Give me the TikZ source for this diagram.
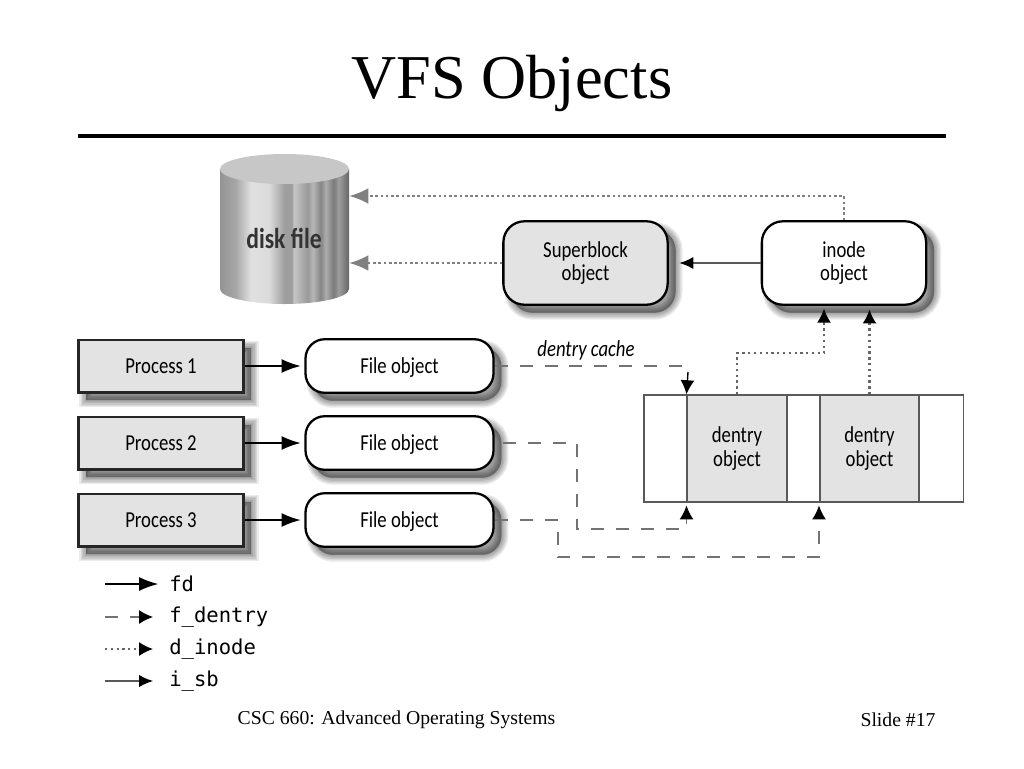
\documentclass[tikz,border=0pt]{standalone}
\usepackage{fontspec}
\setmainfont{Liberation Serif}
\newfontfamily\labelfont[FakeStretch=0.82]{Carlito}
\newfontfamily\codefont{DejaVu Sans Mono}
\usetikzlibrary{shadows,arrows.meta}
\pgfdeclarehorizontalshading{diskstripes}{100bp}{
  color(0bp)=(black!42); color(25bp)=(black!42); color(31bp)=(black!35);
  color(37bp)=(black!12); color(44bp)=(black!14); color(50bp)=(black!38);
  color(53bp)=(black!38); color(53.5bp)=(black!22); color(56bp)=(black!30);
  color(59bp)=(black!40); color(61bp)=(black!28); color(64bp)=(black!48);
  color(66bp)=(black!32); color(69bp)=(black!52); color(71bp)=(black!38);
  color(74bp)=(black!55); color(75bp)=(black!60); color(100bp)=(black!60)}
\tikzset{
  softlayer/.style={general shadow={shadow xshift=4.5pt,shadow yshift=-4.5pt,fill=black,draw=black,line width=#1,opacity=.08}},
  softshadow/.style={softlayer=8pt,softlayer=6.5pt,softlayer=5pt,softlayer=3.5pt,softlayer=2pt,softlayer=.5pt},
  boxlabel/.style={font=\labelfont\fontsize{13}{13.5}\selectfont,align=center,inner sep=0pt},
  procbox/.style={boxlabel,softshadow,draw=black!85,line width=1.3pt,fill=black!11,minimum width=94pt,minimum height=30pt,text height=9pt,text depth=0pt},
  fileobj/.style={boxlabel,softshadow,draw=black,line width=1.3pt,fill=white,rounded corners=11pt,minimum width=107pt,minimum height=30.5pt,text height=9pt,text depth=0pt},
  bigobj/.style={boxlabel,softshadow,draw=black,line width=1.3pt,rounded corners=12pt,minimum width=93.5pt,minimum height=47.5pt},
  dentrycell/.style={boxlabel,draw=black!65,line width=1pt,fill=black!11,minimum width=56.5pt,minimum height=60.7pt},
  fdline/.style={draw=black,line width=1.1pt,-{Latex[length=11pt,width=8pt]}},
  sbline/.style={draw=black!65,line width=1pt,-{Latex[length=8pt,width=7pt,color=black]}},
  dentrydash/.style={draw=black!55,line width=1.1pt,dash pattern=on 7.4pt off 6.8pt},
  dentryline/.style={dentrydash,-{Latex[length=8pt,width=8pt,color=black]}},
  inodeline/.style={draw=black!60,line width=1.3pt,dotted,-{Latex[length=8pt,width=8pt,color=black]}},
  diskline/.style={draw=black!50,line width=1.5pt,dash pattern=on 1.5pt off 1.5pt,-{Latex[length=11pt,width=9pt,color=black!50]}},
  legendlabel/.style={font=\codefont\fontsize{11.7}{12}\selectfont,anchor=west,inner sep=0pt},
}
\begin{document}
\begin{tikzpicture}[x=0.02cm,y=-0.02cm]
\useasboundingbox (0,0) rectangle (1024,768);
% title and footer
\node (title) at (512,83) {\fontsize{35.5}{40}\selectfont VFS Objects};
\coordinate (ruleL) at (78,136);
\coordinate (ruleR) at (946,136);
\draw[line width=2.4pt] (ruleL) -- (ruleR);
\node (course) at (396.5,719.5) {\fontsize{11.2}{13}\selectfont CSC 660: Advanced Operating Systems};
\node (slide) at (898,719.5) {\fontsize{11.2}{13}\selectfont Slide \#17};
% disk file
\shade[shading=diskstripes] (220,169) -- (220,289) arc[x radius=64.5,y radius=15,start angle=180,end angle=0] -- (349,169) -- cycle;
\fill[black!22] (284.5,169) ellipse[x radius=64.5,y radius=15];
\node[font=\labelfont\bfseries\fontsize{16.4}{18}\selectfont,text=black!80,inner sep=0pt] (diskfile) at (284,238) {disk file};
\coordinate (diskTop) at (349,196);
\coordinate (diskLow) at (349,263);
% objects
\node[bigobj,fill=black!11] (superblock) at (585.5,263) {Superblock\\object};
\node[bigobj,fill=white] (inode) at (844,263) {inode\\object};
\foreach \n/\y in {1/366,2/443,3/520}{
  \node[procbox] (proc\n) at (161,\y) {Process \n};
  \node[fileobj] (file\n) at (399.5,\y) {File object};
  \draw[fdline,shorten >=2pt] (proc\n) -- (file\n);
}
% dentry cache
\node[draw=black!65,line width=1pt,minimum width=182pt,minimum height=60.7pt,inner sep=0pt] (cache) at (803.5,448.5) {};
\node[dentrycell] (dentry1) at (737,448.5) {dentry\\object};
\node[dentrycell] (dentry2) at (869.5,448.5) {dentry\\object};
\node[font=\labelfont\itshape\fontsize{13}{14}\selectfont,inner sep=0pt] (cachelabel) at (586,350) {dentry cache};
% connectors
\draw[diskline] (inode.north) -- (inode.north |- diskTop) -- (diskTop);
\draw[diskline] (superblock.west) -- (diskLow);
\draw[sbline,shorten >=6pt] (inode.west) -- (superblock.east);
\coordinate (inodeIn) at (824,305);
\draw[inodeline,shorten >=2pt] (dentry1.north) -- ++(0,-41) -| (inodeIn);
\draw[inodeline,shorten >=2pt] (dentry2.north) -- (dentry2.north |- inode.south);
\coordinate (cacheDrop) at (688,372);
\draw[dentrydash] (file1.east) -- ++(190,0);
\draw[draw=black,line width=.8pt,-{Latex[length=8pt,width=8pt]}] (cacheDrop) -- (dentry1.north west);
\draw[dentryline,shorten >=1.5pt] (file2.east) ++(8,0) -- ++(74,0) -- ++(0,86) -| (dentry1.south west);
\draw[dentryline,shorten >=1.5pt] (file3.east) -- ++(63,0) -- ++(0,37) -| (dentry2.south west);
% legend
\foreach \m/\y/\s/\g/\t in {fd/584/fdline/6pt/fd,dentry/617/dentryline/9pt/f\_dentry,inode/649/inodeline/9pt/d\_inode,sb/681/sbline/9pt/i\_sb}{
  \coordinate (start\m) at (105,\y);
  \node[legendlabel] (legend\m) at (169,\y) {\t};
  \draw[\s,shorten >=\g] (start\m) -- (legend\m.west);
}
\end{tikzpicture}
\end{document}
